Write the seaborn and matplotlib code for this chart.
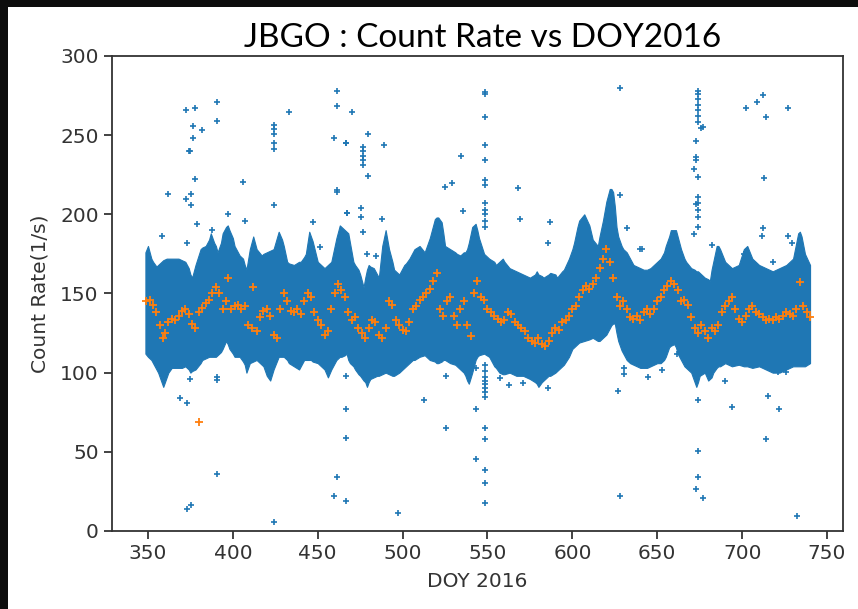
import matplotlib
matplotlib.use("Agg")
import matplotlib.pyplot as plt
from matplotlib.patches import Rectangle
import numpy as np
import pandas as pd
import seaborn as sns

# Envelope of the dense count-rate cloud (day of year, lower / upper count rate)
band_doy = [348.5, 350, 352, 353, 355, 356, 358, 359, 361, 362, 364, 366, 368, 370, 372, 374, 375, 376,
            378, 381, 382, 384, 386, 387, 389, 390, 391, 393, 394, 396, 397, 398, 400, 401, 403, 404,
            406, 407, 408, 410, 412, 414, 417, 418, 420, 422, 424, 427, 429, 430, 432, 433, 436, 439,
            440, 442, 443, 445, 446, 447, 450, 454, 456, 458, 461, 463, 464, 466, 467, 468, 469, 471,
            472, 474, 475, 477, 478, 479, 480, 481, 483, 485, 486, 488, 490, 492, 494, 495, 498, 501,
            502, 504, 506, 507, 510, 513, 516, 519, 520, 521, 523, 524, 525, 528, 531, 532, 534, 536,
            537, 538, 539, 541, 543, 544, 545, 548, 551, 554, 555, 557, 559, 560, 563, 567, 571, 575,
            578, 579, 580, 582, 583, 586, 587, 590, 591, 594, 595, 598, 600, 601, 603, 604, 607, 610,
            612, 615, 616, 618, 620, 622, 623, 624, 625, 626, 627, 629, 630, 632, 634, 636, 638, 640,
            642, 644, 646, 648, 650, 652, 654, 655, 657, 658, 660, 661, 662, 664, 666, 667, 670, 672,
            673, 674, 675, 678, 680, 681, 682, 683, 685, 686, 687, 690, 694, 698, 701, 702, 703, 706,
            710, 714, 718, 722, 726, 730, 733, 734, 735, 737, 740]
band_low = [112, 110, 108, 106, 102, 100, 94, 91, 97, 100, 103, 103, 103, 103, 104, 102, 100, 101,
            102, 106, 108, 109, 110, 110, 110, 110, 111, 113, 115, 120, 118, 115, 112, 110, 110, 110,
            107, 105, 100, 106, 107, 108, 105, 104, 98, 95, 102, 110, 110, 110, 108, 106, 104, 102,
            104, 108, 108, 108, 108, 107, 106, 102, 97, 102, 108, 110, 110, 111, 112, 108, 106, 104,
            102, 99, 98, 95, 94, 91, 94, 96, 97, 98, 98, 99, 100, 99, 98, 98, 100, 103,
            104, 106, 108, 108, 110, 111, 108, 107, 106, 106, 107, 108, 108, 106, 105, 104, 102, 100,
            98, 95, 93, 100, 108, 110, 111, 112, 110, 104, 103, 100, 99, 99, 100, 98, 98, 96,
            94, 93, 91, 94, 95, 98, 98, 100, 101, 104, 105, 110, 115, 116, 118, 119, 120, 121,
            122, 120, 120, 122, 124, 128, 130, 131, 131, 125, 120, 114, 112, 108, 106, 105, 104, 103,
            103, 103, 104, 105, 106, 106, 108, 110, 116, 117, 118, 116, 112, 108, 104, 103, 100, 94,
            91, 94, 98, 100, 95, 96, 97, 100, 103, 104, 104, 106, 104, 105, 104, 104, 104, 103,
            104, 102, 100, 100, 102, 104, 104, 104, 104, 104, 106]
band_high = [176, 180, 172, 170, 167, 168, 170, 171, 172, 172, 172, 172, 172, 171, 170, 166, 162, 160,
             168, 178, 179, 180, 184, 188, 182, 180, 176, 182, 188, 192, 193, 190, 185, 180, 176, 174,
             172, 168, 165, 178, 186, 178, 174, 175, 176, 177, 178, 189, 184, 180, 170, 169, 168, 170,
             170, 173, 175, 189, 186, 183, 170, 166, 168, 170, 185, 193, 192, 190, 189, 188, 182, 170,
             168, 165, 162, 154, 160, 165, 168, 167, 166, 162, 160, 180, 190, 178, 170, 165, 162, 168,
             169, 172, 176, 178, 180, 176, 185, 197, 198, 198, 195, 188, 180, 178, 176, 175, 174, 176,
             176, 178, 182, 192, 194, 190, 185, 175, 172, 170, 168, 170, 172, 170, 166, 164, 162, 160,
             162, 164, 162, 161, 160, 162, 163, 162, 160, 164, 165, 172, 178, 182, 192, 196, 200, 193,
             184, 180, 186, 196, 208, 216, 216, 214, 205, 192, 186, 180, 178, 176, 172, 168, 167, 166,
             165, 165, 166, 168, 170, 172, 176, 180, 186, 190, 190, 190, 186, 178, 172, 170, 166, 165,
             164, 164, 163, 160, 159, 158, 165, 170, 180, 180, 178, 170, 166, 168, 178, 179, 180, 172,
             168, 166, 164, 166, 168, 172, 188, 189, 186, 175, 168]

# Scattered single readings far from the main cloud
outlier_doy = [372.4, 377.7, 390.4, 376.7, 381.6, 376.7, 374.4, 374.9, 377.7, 390.4, 362.0, 372.4, 375.1,
               375.1, 379.0, 358.4, 372.8, 397.0, 406.2, 407.3, 388.0, 424.0, 424.0, 424.0, 424.0, 424.0,
               424.0, 433.0, 461.1, 461.1, 459.8, 466.4, 461.1, 461.4, 467.4, 470.0, 447.4, 451.3,
               374.7, 390.4, 390.4, 368.9, 372.8, 390.4, 372.8, 375.1, 424.0, 466.4, 466.4, 466.4,
               461.1, 459.8, 466.4,
               466.4, 479.4, 476.5, 476.5, 476.5, 476.5, 476.5, 479.4, 489.2, 475.3, 475.3, 467.4,
               488.0, 479.2, 484.1, 525.0, 529.3, 534.2, 548.5, 548.5, 548.5, 548.5, 548.5, 548.5,
               548.5, 548.5, 548.5, 548.5, 548.5, 548.5, 542.0, 535.8, 569.1, 567.8, 585.8, 586.8,
               513.6,
               476.5, 497.0, 525.3, 525.3, 512.8, 543.2, 543.2, 543.2, 548.5, 548.5, 548.5, 548.5,
               548.5, 548.5, 548.5, 548.5, 548.5, 548.5, 548.5, 548.5, 548.5, 557.4, 562.7, 571.1,
               585.8,
               628.1, 628.1, 632.0, 674.2, 674.2, 674.2, 674.2, 674.2, 674.2, 674.2, 675.6, 677.2,
               672.8, 672.8, 672.8, 671.9, 674.2, 674.2, 674.2, 674.2, 674.2, 674.2, 672.8, 671.9,
               682.1, 702.3, 709.0, 712.5, 714.1, 712.9, 726.8, 712.5, 711.5, 727.2, 729.6, 701.3,
               639.8, 641.2, 718.4,
               626.7, 630.4, 630.4, 644.8, 652.6, 661.4, 674.2, 674.2, 674.2, 672.8, 677.2, 628.1,
               690.0, 693.8, 715.4, 721.9, 714.1, 732.1, 721.0, 726.0]
outlier_rate = [266, 267, 271, 256, 253, 248, 240, 240, 222, 259, 213, 209.5, 213,
                206, 194, 186, 182, 200, 220.5, 195.6, 190, 256.5, 254, 250.5, 245, 241,
                206, 264.5, 278, 268.5, 248, 245, 215.4, 214, 201, 264.5, 195.4, 179.6,
                95.8, 97.4, 95.4, 84.2, 81, 35.8, 13.7, 16.4, 5.5, 98.1, 77, 59,
                34.3, 22, 19.2,
                245, 250.6, 242.8, 240, 237, 234, 231, 224.5, 243.8, 203.8, 198.6, 201,
                196.9, 175, 173.7, 217.5, 220, 236.9, 276, 277, 261.7, 243.8, 234, 221.7,
                218.6, 206.9, 203, 200, 196, 192, 185, 202.4, 196.9, 216.3, 182, 195.4, 168,
                188.6,
                11.2, 65, 98.1, 82.8, 103.2, 77, 45.5, 17.9, 104.9, 101, 97,
                95, 93, 90, 88, 84.8, 64.9, 57.9, 38.6, 30.5, 96.4, 92.2, 93.7,
                90,
                279.6, 212, 191.2, 278, 276, 273, 269, 266, 262.3, 258, 254.4, 255,
                246.6, 236.5, 234, 228.7, 223.3, 211.2, 207, 203, 198, 192, 206.6, 187.4,
                180.4, 267, 271, 275.4, 261.7, 223, 267, 191.2, 186, 186, 181.8, 175,
                178, 178, 170,
                88.4, 103, 99, 97.5, 101.7, 111.6, 82.8, 50.8, 34.3, 26.3, 20.6, 22,
                95, 78.5, 85.5, 77, 57.9, 9.5, 100.7, 100.7]

# Daily mean count rate
daily_doy = [349, 351, 353, 355, 357, 359, 360, 362, 364, 366, 368, 370, 372, 374, 376, 378, 380, 382,
             384, 386, 388, 390, 392, 394, 396, 397, 399, 401, 403, 405, 407, 409, 411, 412, 414, 416,
             418, 420, 422, 424, 426, 428, 430, 432, 434, 436, 438, 440, 442, 444, 446, 448, 450, 452,
             454, 456, 458, 460, 462, 464, 466, 468, 470, 472, 474, 476, 478, 480, 482, 484, 486, 488,
             490, 492, 494, 496, 498, 500, 502, 504, 506, 508, 510, 512, 514, 516, 518, 520, 522, 524,
             526, 528, 530, 532, 534, 536, 538, 540, 542, 544, 546, 548, 550, 552, 554, 556, 558, 560,
             562, 564, 566, 568, 570, 572, 574, 576, 578, 580, 582, 584, 586, 588, 590, 592, 594, 596,
             598, 600, 602, 604, 606, 608, 610, 612, 614, 616, 618, 620, 622, 624, 626, 628, 630, 632,
             634, 636, 638, 640, 642, 644, 646, 648, 650, 652, 654, 656, 658, 660, 662, 664, 666, 668,
             670, 672, 674, 676, 678, 680, 682, 684, 686, 688, 690, 692, 694, 696, 698, 700, 702, 704,
             706, 708, 710, 712, 714, 716, 718, 720, 722, 724, 726, 728, 730, 732, 734, 736, 738, 740]
daily_rate = [145, 146, 143, 138, 130, 122, 125, 132, 134, 133, 136, 139, 140, 137, 131, 128, 138, 141,
              144, 146, 150, 154, 150, 140, 145, 160, 140, 142, 143, 140, 142, 130, 128, 154, 126, 135,
              139, 140, 136, 124, 122, 140, 150, 145, 139, 138, 140, 137, 145, 150, 148, 138, 133, 130,
              124, 126, 140, 150, 156, 152, 148, 138, 133, 135, 128, 125, 122, 128, 133, 132, 124, 122,
              128, 145, 143, 133, 130, 127, 126, 132, 140, 142, 146, 148, 150, 153, 158, 163, 140, 136,
              145, 148, 136, 130, 140, 145, 130, 123, 150, 158, 148, 146, 140, 138, 136, 134, 132, 133,
              138, 137, 132, 130, 128, 126, 122, 120, 119, 122, 118, 117, 120, 125, 128, 127, 132, 133,
              136, 140, 142, 148, 152, 155, 153, 156, 160, 166, 172, 178, 170, 160, 148, 142, 145, 140,
              135, 134, 136, 133, 138, 140, 137, 140, 145, 148, 152, 155, 158, 156, 152, 145, 146, 143,
              135, 128, 125, 130, 126, 122, 128, 126, 130, 138, 142, 145, 148, 140, 134, 132, 136, 140,
              142, 138, 137, 135, 133, 134, 133, 135, 134, 136, 138, 137, 136, 140, 157, 142, 138, 135]

# Daily mean from a day with very few readings
low_day_doy = [380.2]
low_day_rate = [68.8]

BLUE = "#1f77b4"
ORANGE = "#ff7f0e"

plt.rcParams["font.family"] = ["DejaVu Sans"]
plt.rcParams["font.sans-serif"] = ["DejaVu Sans"]

fig = plt.figure(figsize=(8.58, 6.09), dpi=100, facecolor="white")
ax = fig.add_axes([0.1305, 0.1281, 0.852, 0.780])

# Dense cloud of per-reading count rates
ax.fill_between(band_doy, band_low, band_high, color=BLUE, linewidth=0.8, edgecolor=BLUE, zorder=1)

outliers = pd.DataFrame({"doy": outlier_doy, "rate": outlier_rate})
sns.scatterplot(data=outliers, x="doy", y="rate", marker="+", color=BLUE, s=24,
                linewidth=1.2, ax=ax, zorder=2)

daily = pd.DataFrame({"doy": daily_doy + low_day_doy, "rate": daily_rate + low_day_rate})
sns.scatterplot(data=daily, x="doy", y="rate", marker="+", color=ORANGE, s=26,
                linewidth=1.3, ax=ax, zorder=3)

ax.set_xlim(328.8, 759.4)
ax.set_ylim(0, 300)
ax.set_xticks(np.arange(350, 751, 50))
ax.set_yticks(np.arange(0, 301, 50))

ax.tick_params(axis="both", direction="out", length=6, width=1.2, colors="#222222",
               labelsize=14.5, labelcolor="#333333")
for sp in ax.spines.values():
    sp.set_color("#333333")
    sp.set_linewidth(1.3)

ax.set_xlabel("DOY 2016", fontsize=14.5, color="#333333", labelpad=6)
ax.set_ylabel("Count Rate(1/s)", fontsize=14.5, color="#333333", labelpad=8)
fig.text(0.562, 1 - 47 / 609, "JBGO : Count Rate vs DOY2016", ha="center", va="baseline",
         fontsize=24, family=["Lato", "DejaVu Sans"], color="black")

# Dark frame strips along the top and left edges
fig.patches.append(Rectangle((0, 1 - 7 / 609), 1, 7 / 609, transform=fig.transFigure,
                             facecolor="#0d0d0d", edgecolor="none", zorder=10))
fig.patches.append(Rectangle((0, 0), 8 / 858, 1, transform=fig.transFigure,
                             facecolor="#0d0d0d", edgecolor="none", zorder=10))

fig.savefig("out.png", dpi=100, facecolor=fig.get_facecolor())
